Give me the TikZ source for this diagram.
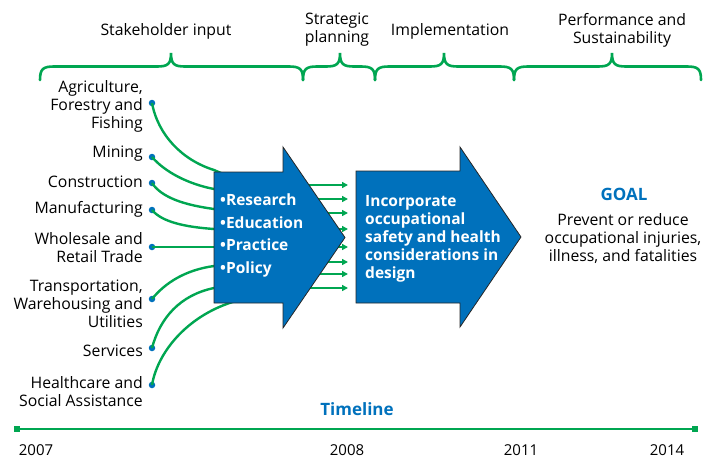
\documentclass[tikz,border=0pt]{standalone}
\usepackage{fontspec}
\setmainfont{Open Sans}
\usetikzlibrary{arrows.meta}
\definecolor{nblue}{HTML}{0071BC}
\definecolor{ngreen}{HTML}{00A651}
\newcommand\mybrace[3]{%
  \draw[bracestyle] (#1,80) .. controls (#1,69) and (#1+3,66.5) .. (#1+14,66.5)
    -- (#3-14,66.5) .. controls (#3-3,66.5) and (#3,64) .. (#3,53)
    .. controls (#3,64) and (#3+3,66.5) .. (#3+14,66.5)
    -- (#2-14,66.5) .. controls (#2-3,66.5) and (#2,69) .. (#2,80);}
\tikzset{
  bracestyle/.style={draw=ngreen,line width=2.6pt,line cap=round},
  lbl/.style={anchor=east,align=right,inner sep=0pt,font=\fontsize{15.8}{18}\selectfont},
  head/.style={align=center,inner sep=0pt,font=\fontsize{15.8}{18}\selectfont},
  dot/.style={circle,fill=nblue,inner sep=0pt,minimum size=6.5pt},
  feed/.style={draw=ngreen,line width=2.4pt},
  bigarrow/.style={fill=nblue,draw=black!85,line width=0.8pt},
  small/.style={draw=ngreen,line width=2.2pt,-{Triangle[length=6pt,width=6pt]}},
  intext/.style={text=white,align=left,inner sep=0pt,anchor=west,font=\bfseries\fontsize{15.5}{22.5}\selectfont},
  year/.style={inner sep=0pt,font=\fontsize{15}{18}\selectfont},
}
\begin{document}
\begin{tikzpicture}[x=1pt,y=-1pt]
\useasboundingbox (0,0) rectangle (703,459);
% header labels
\node[head] (h1) at (166,31) {Stakeholder input};
\node[head] (h2) at (337,30) {Strategic\\planning};
\node[head] (h3) at (450,31) {Implementation};
\node[head] (h4) at (622,30) {Performance and\\Sustainability};
% braces
\mybrace{40}{303}{171}
\mybrace{303}{375}{340}
\mybrace{375}{514}{444}
\mybrace{514}{701}{612}
% left labels
\node[lbl] (lA) at (143,106) {Agriculture,\\Forestry and\\Fishing};
\node[lbl] (lB) at (143,154) {Mining};
\node[lbl] (lC) at (143,182) {Construction};
\node[lbl] (lD) at (143,209) {Manufacturing};
\node[lbl] (lE) at (143,247.5) {Wholesale and\\Retail Trade};
\node[lbl] (lF) at (143,304) {Transportation,\\Warehousing and\\Utilities};
\node[lbl] (lG) at (143,351) {Services};
\node[lbl] (lH) at (143,391.5) {Healthcare and\\Social Assistance};
% dots
\node[dot] (dA) at (152,103) {};
\node[dot] (dB) at (152,157) {};
\node[dot] (dC) at (152,183) {};
\node[dot] (dD) at (152,210) {};
\node[dot] (dE) at (152,247) {};
\node[dot] (dF) at (152,299) {};
\node[dot] (dG) at (152,348) {};
\node[dot] (dH) at (152,385) {};
% end coordinates (hidden behind the first arrow)
\coordinate (eA) at (228,176);
\coordinate (eB) at (228,192);
\coordinate (eC) at (228,211);
\coordinate (eD) at (228,230);
\coordinate (eE) at (228,247);
\coordinate (eF) at (228,263);
\coordinate (eG) at (228,284);
\coordinate (eH) at (236,301);
% feed curves
\draw[feed] (dA.center) .. controls (158,135) and (182,160) .. (214,170) -- (eA);
\draw[feed] (dB.center) .. controls (165,172) and (188,184) .. (214,189) -- (eB);
\draw[feed] (dC.center) .. controls (162,198) and (185,205) .. (214,209) -- (eC);
\draw[feed] (dD.center) .. controls (162,222) and (185,227) .. (214,229) -- (eD);
\draw[feed] (dE.center) -- (eE);
\draw[feed] (dF.center) .. controls (165,283) and (185,270) .. (214,266) -- (eF);
\draw[feed] (dG.center) .. controls (160,318) and (180,295) .. (214,288) -- (eG);
\draw[feed] (dH.center) .. controls (158,350) and (190,314) .. (eH);
% small arrows between the big arrows
\foreach \i/\yy in {1/185,2/199,3/213,4/229,5/247,6/262,7/274,8/288}{
  \coordinate (s\i) at (300,\yy);
  \coordinate (t\i) at (348,\yy);
  \draw[small] (s\i) -- (t\i);
}
% big arrows
\path[bigarrow] (214,172) -- (283,172) -- (283,147) -- (345,237.5) -- (283,328) -- (283,303) -- (214,303) -- cycle;
\path[bigarrow] (356,171) -- (460,171) -- (460,147) -- (521,237) -- (460,327) -- (460,303) -- (356,303) -- cycle;
\node[intext] (t1) at (220,235.5) {•Research\\•Education\\•Practice\\•Policy};
\node[intext,font=\bfseries\fontsize{15.5}{18}\selectfont] (t2) at (365,238.5) {Incorporate\\occupational\\safety and health\\considerations in\\design};
% goal
\node[inner sep=0pt,text=nblue,font=\bfseries\fontsize{17}{20}\selectfont] (goal) at (624,194) {GOAL};
\node[head] (goaltext) at (623,239) {Prevent or reduce\\occupational injuries,\\illness, and fatalities};
% timeline
\node[inner sep=0pt,text=nblue,font=\bfseries\fontsize{17}{20}\selectfont] (tl) at (357,409) {Timeline};
\node[fill=ngreen,inner sep=0pt,minimum size=5.5pt] (m1) at (17,429) {};
\node[fill=ngreen,inner sep=0pt,minimum size=5.5pt] (m2) at (695,429) {};
\draw[draw=ngreen,line width=2.6pt] (m1.center) -- (m2.center);
\node[year] (y1) at (36,450.5) {2007};
\node[year] (y2) at (347,450.5) {2008};
\node[year] (y3) at (521,450.5) {2011};
\node[year] (y4) at (667,450.5) {2014};
\end{tikzpicture}
\end{document}
